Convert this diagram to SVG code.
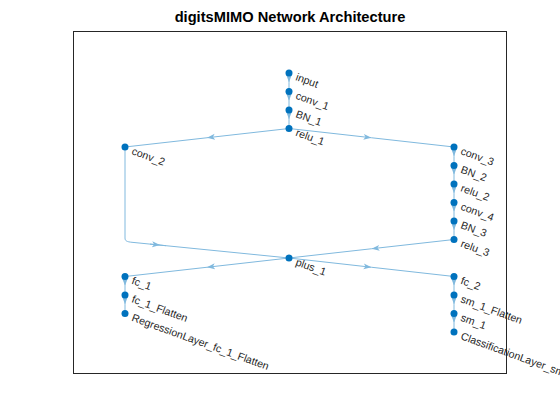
<svg xmlns="http://www.w3.org/2000/svg" width="560" height="420" viewBox="0 0 560 420">
<style>
.e{fill:none;stroke:#80b9de;stroke-width:1;marker-mid:url(#a)}
.c{fill:none;stroke:#80b9de;stroke-width:1}
.n{fill:#0072bd}
.l{font-family:"Liberation Sans",Arial,sans-serif;font-size:10.67px;fill:#262626}
.t{font-family:"Liberation Sans",Arial,sans-serif;font-size:14.67px;font-weight:bold;fill:#000;text-anchor:middle}
</style>
<defs>
<marker id="a" markerWidth="10" markerHeight="8" refX="8" refY="4" orient="auto" markerUnits="userSpaceOnUse"><path d="M0,1 L8,4 L0,7 L2,4 Z" fill="#80b9de"/></marker>
</defs>
<rect width="560" height="420" fill="#fff"/>
<text class="t" x="290" y="22">digitsMIMO Network Architecture</text>
<rect x="73.5" y="31.5" width="433" height="342" fill="#fff" stroke="#262626" stroke-width="1"/>
<g id="edges">
<path class="e" d="M289,73 L289,82.25 L289,91.5"/>
<path class="e" d="M289,91.5 L289,100.75 L289,110"/>
<path class="e" d="M289,110 L289,119.25 L289,128.5"/>
<path class="e" d="M289,128.5 L207,137.75 L125,147"/>
<path class="e" d="M289,128.5 L371.5,137.75 L454,147"/>
<path class="e" d="M454,147 L454,156.25 L454,165.5"/>
<path class="e" d="M454,165.5 L454,174.75 L454,184"/>
<path class="e" d="M454,184 L454,193.25 L454,202.5"/>
<path class="e" d="M454,202.5 L454,211.75 L454,221"/>
<path class="e" d="M454,221 L454,230.25 L454,239.5"/>
<path class="e" d="M454,239.5 L371.5,248.75 L289,258"/>
<path class="c" d="M125,147 L125,238 C125,241 127,241.8 132,242.3 L289,258"/>
<path class="e" d="M150,244.1 L160,245.1 L166,245.7"/>
<path class="e" d="M289,258 L207,267.25 L125,276.5"/>
<path class="e" d="M289,258 L371.5,267.25 L454,276.5"/>
<path class="e" d="M125,276.5 L125,285.75 L125,295"/>
<path class="e" d="M125,295 L125,304.25 L125,313.5"/>
<path class="e" d="M454,276.5 L454,285.75 L454,295"/>
<path class="e" d="M454,295 L454,304.25 L454,313.5"/>
<path class="e" d="M454,313.5 L454,322.75 L454,332"/>
</g>
<g id="input"><circle class="n" cx="289" cy="73" r="3.5"/><text class="l" transform="translate(295,80) rotate(20)">input</text></g>
<g id="conv_1"><circle class="n" cx="289" cy="91.5" r="3.5"/><text class="l" transform="translate(295,98.5) rotate(20)">conv_1</text></g>
<g id="BN_1"><circle class="n" cx="289" cy="110" r="3.5"/><text class="l" transform="translate(295,117) rotate(20)">BN_1</text></g>
<g id="relu_1"><circle class="n" cx="289" cy="128.5" r="3.5"/><text class="l" transform="translate(295,135.5) rotate(20)">relu_1</text></g>
<g id="conv_2"><circle class="n" cx="125" cy="147" r="3.5"/><text class="l" transform="translate(131,154) rotate(20)">conv_2</text></g>
<g id="conv_3"><circle class="n" cx="454" cy="147" r="3.5"/><text class="l" transform="translate(460,154) rotate(20)">conv_3</text></g>
<g id="BN_2"><circle class="n" cx="454" cy="165.5" r="3.5"/><text class="l" transform="translate(460,172.5) rotate(20)">BN_2</text></g>
<g id="relu_2"><circle class="n" cx="454" cy="184" r="3.5"/><text class="l" transform="translate(460,191) rotate(20)">relu_2</text></g>
<g id="conv_4"><circle class="n" cx="454" cy="202.5" r="3.5"/><text class="l" transform="translate(460,209.5) rotate(20)">conv_4</text></g>
<g id="BN_3"><circle class="n" cx="454" cy="221" r="3.5"/><text class="l" transform="translate(460,228) rotate(20)">BN_3</text></g>
<g id="relu_3"><circle class="n" cx="454" cy="239.5" r="3.5"/><text class="l" transform="translate(460,246.5) rotate(20)">relu_3</text></g>
<g id="plus_1"><circle class="n" cx="289" cy="258" r="3.5"/><text class="l" transform="translate(295,265) rotate(20)">plus_1</text></g>
<g id="fc_1"><circle class="n" cx="125" cy="276.5" r="3.5"/><text class="l" transform="translate(131,283.5) rotate(20)">fc_1</text></g>
<g id="fc_1_Flatten"><circle class="n" cx="125" cy="295" r="3.5"/><text class="l" transform="translate(131,302) rotate(20)">fc_1_Flatten</text></g>
<g id="RegressionLayer_fc_1_Flatten"><circle class="n" cx="125" cy="313.5" r="3.5"/><text class="l" transform="translate(131,320.5) rotate(20)">RegressionLayer_fc_1_Flatten</text></g>
<g id="fc_2"><circle class="n" cx="454" cy="276.5" r="3.5"/><text class="l" transform="translate(460,283.5) rotate(20)">fc_2</text></g>
<g id="sm_1_Flatten"><circle class="n" cx="454" cy="295" r="3.5"/><text class="l" transform="translate(460,302) rotate(20)">sm_1_Flatten</text></g>
<g id="sm_1"><circle class="n" cx="454" cy="313.5" r="3.5"/><text class="l" transform="translate(460,320.5) rotate(20)">sm_1</text></g>
<g id="ClassificationLayer_sm_1"><circle class="n" cx="454" cy="332" r="3.5"/><text class="l" transform="translate(460,339) rotate(20)">ClassificationLayer_sm_1</text></g>
</svg>
